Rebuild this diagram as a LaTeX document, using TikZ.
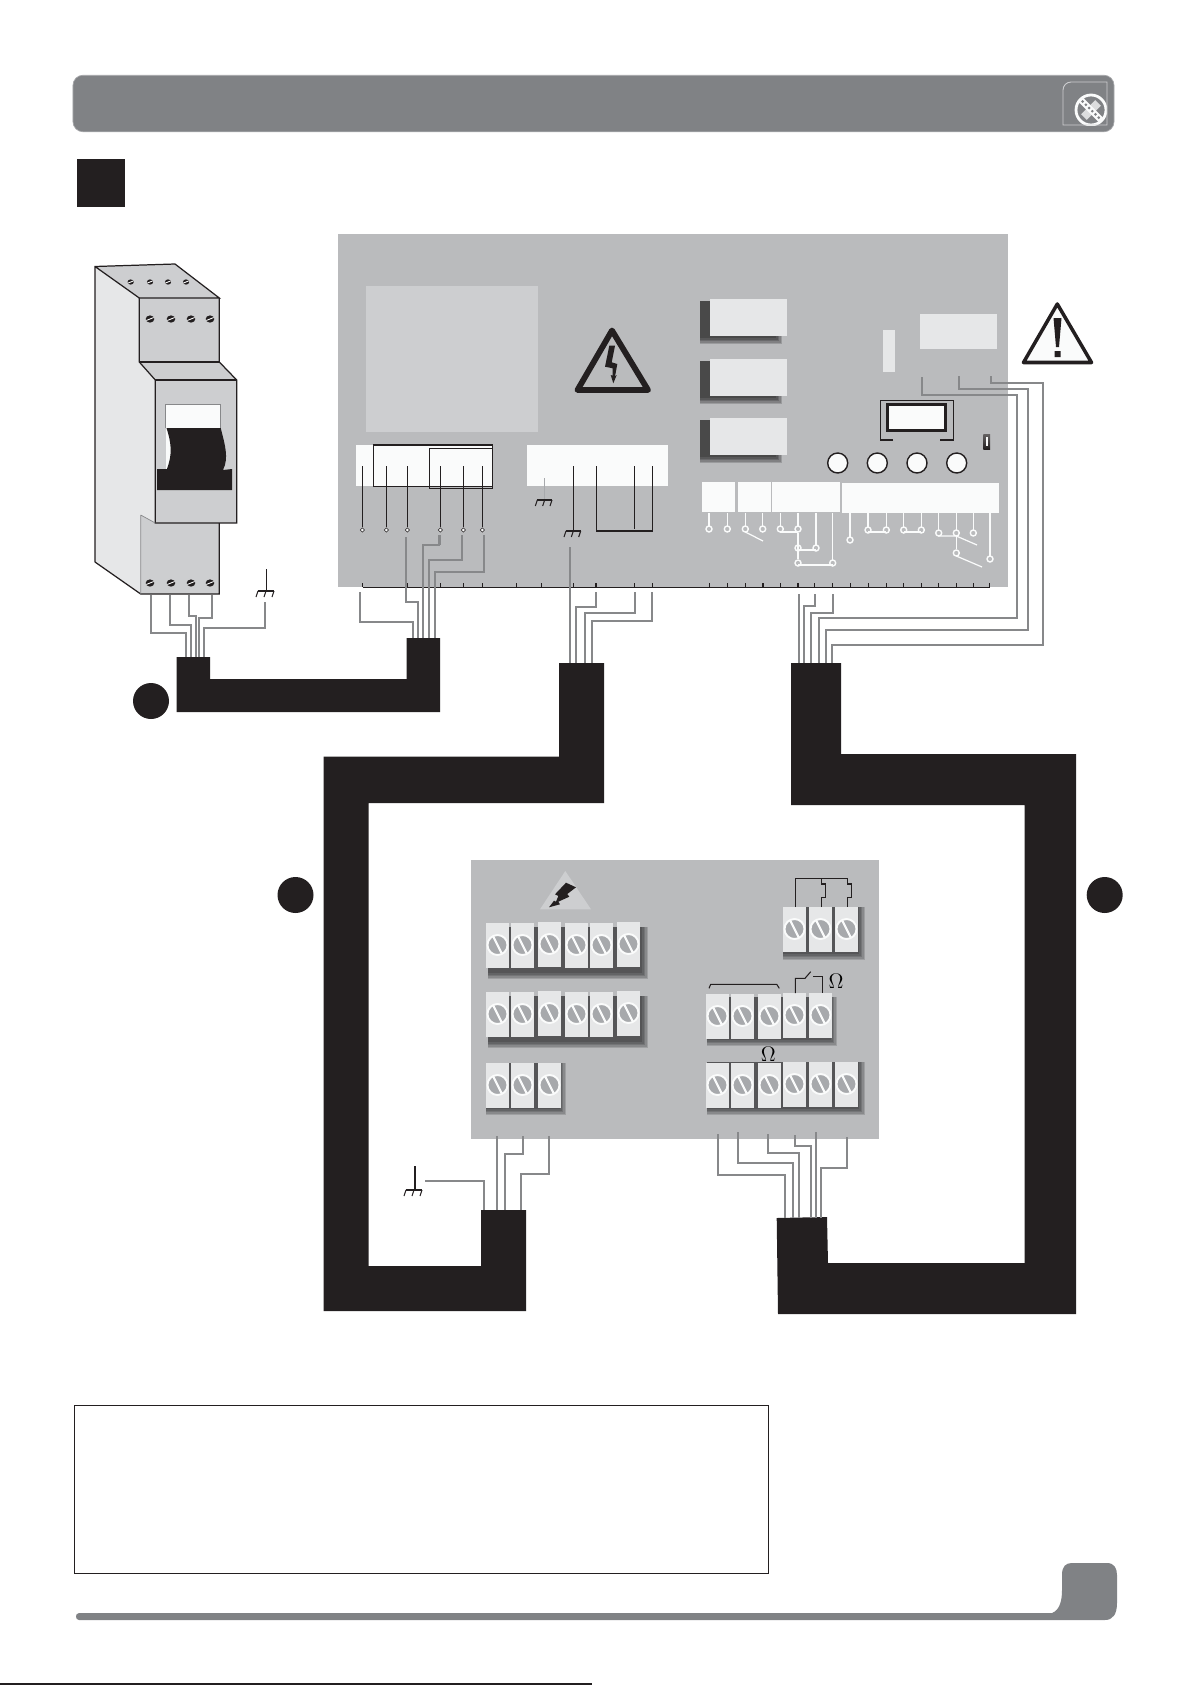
\documentclass[tikz,border=0pt]{standalone}
\usepackage{amsmath}
\usepackage{tikz}
\usetikzlibrary{shapes.geometric}

\definecolor{boardgray}{HTML}{BABBBD}
\definecolor{softgray}{HTML}{CDCED0}
\definecolor{palegray}{HTML}{E6E7E8}
\definecolor{nearwhite}{HTML}{FAFBFB}
\definecolor{inkblack}{HTML}{231F20}
\definecolor{wiregray}{HTML}{87888A}
\definecolor{bargray}{HTML}{808285}
\definecolor{screwgray}{HTML}{A7A9AC}

\tikzset{
  wire/.style={draw=wiregray,line width=1.15pt},
  thickwire/.style={draw=wiregray,line width=1.8pt},
  thin line/.style={draw=inkblack,line width=0.6pt},
  cablebody/.style={fill=inkblack,draw=none},
  outline/.style={draw=inkblack,line width=0.7pt},
  tracewhite/.style={draw=nearwhite,line width=0.7pt},
  pad/.style={circle,draw=nearwhite,line width=0.8pt,fill=boardgray,minimum size=1.2mm,inner sep=0pt},
  pushbutton/.style={circle,draw=inkblack,line width=0.8pt,fill=nearwhite,minimum size=4mm,inner sep=0pt},
  blob/.style={circle,fill=inkblack,minimum size=7.2mm,inner sep=0pt},
  terminalbody/.style={rectangle,fill=palegray,minimum width=4.6mm,minimum height=9mm,inner sep=0pt,anchor=north west},
  whiteblock/.style={fill=nearwhite},
  panel/.style={fill=palegray},
}

% screw of the breaker
\newcommand{\brkscrew}[3]{%
  \fill[inkblack] (#1,#2) ellipse [x radius=#3*1.2,y radius=#3];
  \draw[nearwhite,line width=0.5pt] (#1-#3,#2+#3*0.4) -- (#1+#3,#2-#3*0.4);
}
% terminal with its screw
\newcommand{\terminal}[3]{%
  \node[terminalbody] (#1) at (#2,#3) {};
  \fill[screwgray] (#2+11.5,#3+22) circle (10);
  \draw[nearwhite,line width=1.1pt] (#2+11.5,#3+22) circle (10);
  \draw[nearwhite,line width=1.2pt] (#2+7,#3+13) -- (#2+16,#3+31);
}
% soft shadow
\newcommand{\softshadow}[5]{%
  \foreach \d in {0,1.5,3,4.5,6}
    \fill[black,opacity=#5] (#1,#2) rectangle (#3-\d,#4-\d);
}
% earth symbol
\newcommand{\earthbar}[4]{%
  \draw[#4,line width=0.6pt] (#1,#3) -- (#2,#3);
  \draw[#4,line width=0.6pt] (#1,#3) -- ++(-2,6) (#1/2+#2/2,#3) -- ++(-2,6) (#2,#3) -- ++(-2,6);
}
\newcommand{\wirez}[3]{\draw[wire] (#1) -- (#1 |- 0,#3) -| (#2);}
\newcommand{\wirelong}[5]{\draw[wire] (#1) -- (#1 |- 0,#3) -- (#4,#3) -- (#4,#5) -| (#2);}

\begin{document}
\begin{tikzpicture}[x=0.2mm,y=-0.2mm]
\useasboundingbox (0,0) rectangle (1191,1685);

% heading
\node[rectangle,rounded corners=2mm,fill=bargray,draw=bargray!70!white,line width=0.4pt,minimum width=208.2mm,minimum height=11.3mm,inner sep=0pt] (headbar) at (593.5,103.5) {};
\begin{scope}
  \clip (1062,81) rectangle (1107,125);
  \draw[nearwhite,line width=1.6pt] (1091,110) circle (15);
  \draw[nearwhite!75!bargray,line width=4.5pt,rotate around={45:(1091,110)}] (1081,110) -- (1101,110);
  \draw[nearwhite,line width=3.6pt,rotate around={-45:(1091,110)}] (1077,110) -- (1105,110);
  \draw[bargray,line width=1.2pt,dash pattern=on 1.2pt off 1.4pt,rotate around={-45:(1091,110)}] (1078,110) -- (1104,110);
\end{scope}
\draw[softgray,line width=0.5pt] (1063,125) -- (1063,90) arc (180:270:8) -- (1107,82) -- (1107,125) -- cycle;
\fill[inkblack] (77,159) rectangle (125,207);

% breaker
\fill[palegray] (95,266.5) -- (139.3,298) -- (139.3,362) -- (155.3,380) -- (155.3,523) -- (140.7,515) -- (140.7,594) -- (95,562) -- cycle;
\fill[softgray] (95,266.5) -- (175,264) -- (219.3,298) -- (139.3,298) -- cycle;
\fill[softgray] (139.3,298) rectangle (219.3,362);
\fill[softgray] (139.3,362) -- (219.3,362) -- (236.7,380) -- (155.3,380) -- cycle;
\fill[softgray] (140.7,515) -- (155.3,523) -- (219.3,523) -- (219.3,594) -- (140.7,594) -- cycle;
\fill[softgray] (155.3,380) rectangle (236.7,523);
\draw[outline] (95,562) -- (95,266.5) -- (175,264) -- (219.3,298) -- (139.3,298) -- (95,266.5);
\draw[outline] (139.3,298) -- (139.3,362) -- (155.3,380) -- (155.3,523) -- (236.7,523) -- (236.7,380) -- (219.3,362) -- (219.3,298);
\draw[outline] (139.3,362) -- (219.3,362);
\draw[outline] (155.3,380) -- (236.7,380);
\draw[outline] (219.3,523) -- (219.3,594) -- (140.7,594) -- (95,562);
\draw[line width=0.4pt,draw=wiregray] (140.7,515) -- (140.7,594) (140.7,515) -- (155.3,523);
\fill[nearwhite] (165.7,404.3) rectangle (220.7,428);
\draw[wiregray,line width=0.5pt] (165.7,428) -- (165.7,404.3) -- (220.7,404.3) -- (220.7,428);
\fill[nearwhite] (166,428) rectangle (175,470);
\fill[inkblack] (166.5,428) -- (220.7,428) .. controls (225,445) and (229,458) .. (223,470) -- (232,469) -- (232,490) -- (157,490) -- (157,469) -- (167,469) .. controls (172,455) and (172,445) .. (166.5,428) -- cycle;
\foreach \x in {150,171,191,210} {\brkscrew{\x}{319}{3.6} \brkscrew{\x}{583}{3.6}}
\foreach \x in {130.7,150,168,186} {\brkscrew{\x}{282}{2.6}}
\draw[thin line] (266.7,569) -- (266.7,591);
\earthbar{258}{274}{591}{inkblack}

% top board
\fill[boardgray] (338,234) rectangle (1008,587);
\fill[softgray] (366,286) rectangle (538,432);
\fill[whiteblock] (356,445) rectangle (492.7,486);
\fill[whiteblock] (527,445) rectangle (668,486);
\draw[outline] (373.3,445) rectangle (492.7,486.7);
\draw[outline] (429.3,448.3) rectangle (492.7,488.7);
\foreach \n/\x in {ta/362.3,tb/386.3,tc/407.3,td/440.3,te/463.3,tf/482.3} {
  \node[diamond,draw=inkblack,fill=nearwhite,line width=0.3pt,minimum size=0.9mm,inner sep=0pt] (\n) at (\x,530) {};
  \draw[thin line] (\x,466) -- (\n);
}
\draw[thin line] (573.3,466) -- (573.3,531);
\draw[thin line] (634.3,466) -- (634.3,529);
\draw[thin line] (596.3,466) -- (596.3,531) -- (652.3,531) -- (652.3,466);
\draw[screwgray,line width=0.7pt] (544.7,478) -- (544.7,500);
\earthbar{537.3}{552}{500}{inkblack}
\earthbar{566}{580.7}{531}{inkblack}

% warning signs
\draw[inkblack,line width=3.3pt,line join=round] (612,330.5) -- (577.5,390) -- (648,390) -- cycle;
\fill[inkblack] (609.3,345.7) -- (615,345.7) -- (611.7,362.3) -- (617.3,364) -- (615,376.7) -- (616.7,375) -- (613.3,383.3) -- (610.7,375) -- (612.7,375.7) -- (612.7,368.3) -- (605,366.7) -- cycle;
\draw[inkblack,line width=2pt,line join=round,fill=nearwhite] (1057.3,304) -- (1023.5,362.5) -- (1091.5,362.5) -- cycle;
\fill[inkblack] (1053.5,318) -- (1061.5,318) -- (1059,347) -- (1056,347) -- cycle (1054.5,351) rectangle (1060.5,357);

% relays
\foreach \n/\y in {ra/299,rb/359,rc/418} {
  \softshadow{700}{\y+2}{782}{\y+45}{.17}
  \node[rectangle,fill=palegray,minimum width=15.4mm,minimum height=7.4mm,inner sep=0pt,anchor=north west] (\n) at (710,\y) {};
}
\fill[panel] (883,330) rectangle (895,372);
\fill[panel] (920,314) rectangle (997,349);

% display and buttons
\draw[thin line] (893,440) -- (880.3,440) -- (880.3,400.3) -- (953.7,400.3) -- (953.7,440) -- (940,440);
\draw[draw=inkblack,line width=1.7pt,fill=nearwhite] (887.3,404.3) rectangle (945.7,430.7);
\shade[top color=inkblack!70,bottom color=inkblack] (983.3,434) rectangle (990,449);
\fill[nearwhite] (986,437) rectangle (987.5,446);
\foreach \n/\x in {keya/837.7,keyb/877.3,keyc/917,keyd/956.7}
  \node[pushbutton] (\n) at (\x,463) {};

% white blocks and their pads
\fill[whiteblock] (702,482) rectangle (735,512);
\fill[whiteblock] (738,482) rectangle (771,512);
\fill[whiteblock] (772,482) rectangle (840,512);
\fill[whiteblock] (842,483) rectangle (999,513);
\foreach \n/\x/\y in {pa/709/529,pb/727.3/529,pc/745.3/529,pd/762.7/529,pe/780.3/529,pf/798/529,pg/816/548,ph/832.7/563,pi/850/540,pj/868/530,pk/886.3/530,pl/903.7/530,pm/921.3/530,pn/938.7/533,po/956.3/533,pp/973.3/533,pq/990/559} {
  \draw[tracewhite] (\x,513) -- (\x,\y);
  \node[pad] (\n) at (\x,\y) {};
}
\node[pad] (pr) at (798,548) {};
\node[pad] (ps) at (798,563) {};
\node[pad] (pt) at (956.3,553) {};
\draw[tracewhite] (pf) -- (ps);
\draw[tracewhite] (745.3,532) -- (763,541);
\draw[tracewhite] (780.3,532) -- (798,532);
\draw[tracewhite] (798,550) -- (816,550);
\draw[tracewhite] (798,565) -- (832.7,565);
\draw[tracewhite] (868,532) -- (886.3,532);
\draw[tracewhite] (903.7,532) -- (921.3,532);
\draw[tracewhite] (938.7,536) -- (956.3,536) -- (977,545);
\draw[tracewhite] (956.3,536) -- (pt);
\draw[tracewhite] (956.3,556) -- (982,567);

% scale along the lower edge
\draw[thin line] (362.7,587.3) -- (990,587.3);
\foreach \x in {362.7,407.3,440.3,463.3,482.3,516.3,541.3,573.3,596,634.3,652.3,709.3,727.3,745.3,763,780.3,798,814.7,832.7,850.3,868.3,886.3,903.7,921.3,938.7,956.3,973.3,989.7}
  \draw[thin line] (\x,583.3) -- (\x,587.3);

% cable ends
\foreach \n/\x/\y in {wa/150.7/595,wb/170/595,wc/188.7/595,wd/212/595,we/265/602,
  aa/186/657,ab/190.7/657,ac/196/657,ad/199.3/657,ae/204/657,
  wf/360/592,wg/406/537,wh/439.3/535,wi/462/535,wj/484/535,
  ba/412.7/638,bb/418/638,bc/423/638,bd/429/638,be/435/638,
  wk/570/547,wl/596/592,wm/634.7/592,wn/652.3/592,
  ca/570/663,cb/576/663,cc/585/663,cd/592.3/663,
  wo/799/594,wp/814.7/594,wq/832.7/594,wr/922/377,ws/959/376,wt/991/376,
  da/799/663,db/803.7/663,dc/810.7/663,dd/819.3/663,de/825.7/663,df/832.3/663,
  wu/496.7/1136,wv/523/1136,ww/549/1136,wx/425/1181,
  ea/496.7/1210,eb/505/1210,ec/520.7/1210,ed/484/1210,
  wy/717.7/1134,wz/737.7/1132,xa/767.7/1134,xb/794.7/1135,xc/816/1132,xd/847/1137,
  fa/785/1218,fb/793.3/1218,fc/799.3/1218,fd/810.7/1218,fe/816/1218,ff/821/1218}
  \coordinate (\n) at (\x,\y);

% cables
\fill[cablebody] (176.7,657) -- (210,657) -- (210,679) -- (406.7,679) -- (406.7,638) -- (440,638) -- (440,712) -- (176.7,712) -- cycle;
\fill[cablebody] (559,663) -- (604,663) -- (604,803) -- (368.6,803) -- (368.6,1266) -- (481,1266) -- (481,1210) -- (526,1210) -- (526,1311) -- (323.5,1311) -- (323.5,756.5) -- (559,756.5) -- cycle;
\fill[cablebody] (791,663) -- (841,663) -- (841,754) -- (1076,754) -- (1076,1314) -- (778,1314) -- (776.7,1218) -- (827,1217) -- (828,1263) -- (1024.5,1263) -- (1024.5,805) -- (791,805) -- cycle;
\node[blob] (ca1) at (151,701) {};
\node[blob] (ca2) at (295.5,895) {};
\node[blob] (ca3) at (1104.7,895) {};

% wires
\wirez{wa}{aa}{633}
\wirez{wb}{ab}{625}
\wirez{wc}{ac}{615.6}
\wirez{wd}{ad}{618}
\wirez{we}{ae}{628}
\wirez{wf}{ba}{622}
\wirez{wg}{bb}{602}
\draw[thickwire] (wh) -- (439.3,545.3);
\wirez{wh}{bc}{545.3}
\wirez{wi}{bd}{560}
\wirez{wj}{be}{572}
\draw[wire] (wk) -- (ca);
\wirez{wl}{cb}{607}
\wirez{wm}{cc}{613}
\wirez{wn}{cd}{621}
\draw[wire] (wo) -- (da);
\wirez{wp}{db}{605.7}
\wirez{wq}{dc}{613}
\wirelong{wr}{dd}{394.7}{1016.5}{618}
\wirelong{ws}{de}{389}{1027.7}{630}
\wirelong{wt}{df}{383}{1043}{645}

% lower board
\fill[boardgray] (471,860) rectangle (879,1139.3);
\fill[softgray] (565.3,871) -- (540,909.3) -- (591,909.3) -- cycle;
\fill[inkblack] (566,882.7) -- (576,887.3) -- (567.3,894) -- (569.3,896.7) -- (558.3,901.7) -- (560,904.3) -- (549,907.3) -- (554,900.7) -- (556,901.7) -- (558.3,896) -- (555,894.3) -- cycle;
\softshadow{488}{927}{648}{979}{.14}
\softshadow{488}{996}{648}{1048}{.14}
\softshadow{486}{1063}{566}{1115}{.14}
\softshadow{783}{907}{865}{960}{.14}
\softshadow{707}{997}{837}{1046}{.14}
\softshadow{707}{1062}{865}{1115}{.14}
\foreach \n/\x/\d in {a/486/0,b/511/0,c/538/-1,d/565/0,e/590/0,f/617/-1} {
  \terminal{ra\n}{\x}{923+\d}
  \terminal{rb\n}{\x}{992+\d}
}
\foreach \n/\x in {a/486,b/511,c/538} {
  \terminal{rd\n}{\x}{1063}
}
\foreach \n/\x in {a/783,b/809,c/835} {
  \terminal{sa\n}{\x}{907}
}
\foreach \n/\x/\y in {a/706/994,b/731/994,c/758/994,d/783/993,e/809/993} {
  \terminal{sb\n}{\x}{\y}
}
\foreach \n/\x/\y in {a/706/1063,b/731/1063,c/758/1063,d/783/1062,e/809/1062,f/835/1062} {
  \terminal{sc\n}{\x}{\y}
}

% small wiring above the terminals
\draw[thin line] (795.3,907) -- (795.3,878.3) -- (847.3,878.3) -- (847.3,884) -- (851.7,884) -- (851.7,897.3) -- (847.3,897.3) -- (847.3,907);
\draw[thin line] (821.3,907) -- (821.3,897.3) -- (825.7,897.3) -- (825.7,884) -- (821.3,884) -- (821.3,878.3);
\draw[thin line] (795.3,993) -- (795.3,978.3) -- (805,978.3) -- (810.7,971.7);
\draw[thin line] (813.3,976.7) -- (822.3,976.7) -- (822.3,993);
\draw[thin line] (709,988.3) -- (710.7,984.3) -- (776.7,984.3) -- (779.3,988.3);
\node[inner sep=0pt] (omegaa) at (836,981) {\fontsize{11.5}{11.5}\selectfont$\Omega$};
\node[inner sep=0pt] (omegab) at (768.3,1054) {\fontsize{11.5}{11.5}\selectfont$\Omega$};

% wires under the lower board
\draw[wire] (wu) -- (ea);
\wirez{wv}{eb}{1153.7}
\wirez{ww}{ec}{1173.7}
\draw[wire] (wx) -| (ed);
\draw[thin line] (415,1166) -- (415,1190);
\earthbar{406}{422}{1190}{inkblack}
\wirez{wy}{fa}{1175.3}
\wirez{wz}{fb}{1163.3}
\wirez{xa}{fc}{1153.3}
\wirez{xb}{fd}{1146.3}
\draw[wire] (xc) -- (fe);
\wirez{xd}{ff}{1167.7}

% note frame and footer
\node[rectangle,draw=inkblack,line width=0.7pt,minimum width=138.8mm,minimum height=33.6mm,inner sep=0pt,anchor=north west] (noteframe) at (74,1405) {};
\fill[bargray] (79,1613) -- (1052,1613) .. controls (1060,1610) and (1062,1600) .. (1062,1590) -- (1062,1575) .. controls (1062,1566) and (1066,1563) .. (1072,1563) -- (1107,1563) .. controls (1114,1563) and (1117,1568) .. (1117,1575) -- (1117,1603) .. controls (1117,1614) and (1113,1620) .. (1105,1620) -- (79,1620) .. controls (75,1620) and (75,1613) .. (79,1613) -- cycle;
\draw[inkblack,line width=0.8pt] (0,1684) -- (592,1684);
\end{tikzpicture}
\end{document}
